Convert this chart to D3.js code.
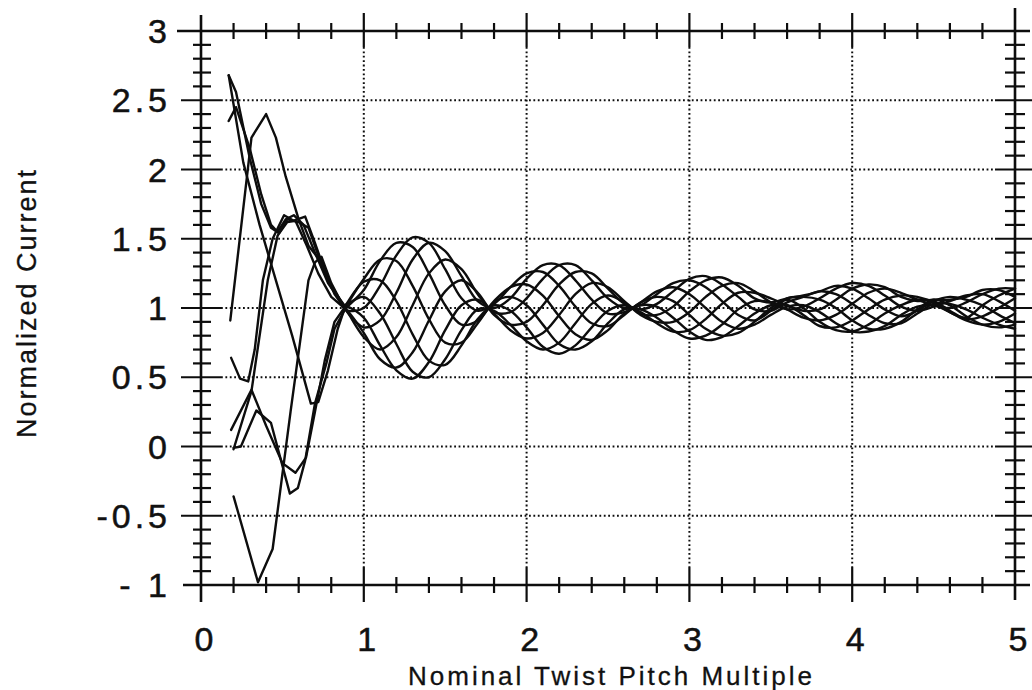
<!DOCTYPE html>
<html>
<head>
<meta charset="utf-8">
<script src="https://cdn.jsdelivr.net/npm/d3@7"></script>
<style>
  html, body { margin: 0; padding: 0; background: #ffffff; }
  svg { display: block; }
  text { font-family: "Liberation Sans", Arial, Helvetica, sans-serif; fill: #111; }
</style>
</head>
<body>
<svg id="chart" width="1032" height="690"></svg>
<script>
// ---- axis ticks and labels ----
const xTickValues = [0, 1, 2, 3, 4, 5];
const xTickLabels = ["0", "1", "2", "3", "4", "5"];
const yTickValues = [-1, -0.5, 0, 0.5, 1, 1.5, 2, 2.5, 3];
const yTickLabels = ["- 1", "-0.5", "0", "0.5", "1", "1.5", "2", "2.5", "3"];
const xGridValues = [1, 2, 3, 4];
const yGridValues = [-0.5, 0, 0.5, 1, 1.5, 2, 2.5];
const xTitle = "Nominal Twist Pitch Multiple";
const yTitle = "Normalized Current";

// ---- strand currents: coarse start-up segment (x, value) up to the first node ----
const s1Head = [[0.20,-0.36],[0.35,-0.98],[0.44,-0.74],[0.55,0.25],[0.66,1.20],[0.70,1.33],[0.74,1.37],[0.80,1.18],[0.88,1.00]];
const s2Head = [[0.17,2.35],[0.215,2.45],[0.30,2.15],[0.37,1.82],[0.43,1.60],[0.47,1.55],[0.52,1.64],[0.57,1.67],[0.63,1.60],[0.70,1.40],[0.78,1.18],[0.88,1.01]];
const s3Head = [[0.17,2.68],[0.215,2.56],[0.30,2.08],[0.37,1.75],[0.43,1.58],[0.48,1.54],[0.53,1.62],[0.58,1.63],[0.65,1.45],[0.72,1.25],[0.80,1.08],[0.88,1.00]];
const s4Head = [[0.18,0.91],[0.31,2.23],[0.40,2.40],[0.46,2.23],[0.52,1.95],[0.60,1.64],[0.66,1.45],[0.72,1.36],[0.75,1.30],[0.82,1.10],[0.88,1.00]];
const s5Head = [[0.185,0.64],[0.24,0.49],[0.29,0.47],[0.33,0.70],[0.38,1.20],[0.44,1.50],[0.51,1.67],[0.57,1.63],[0.64,1.66],[0.70,1.47],[0.78,1.20],[0.88,1.01]];
const s6Head = [[0.20,-0.02],[0.31,0.40],[0.41,1.20],[0.47,1.52],[0.53,1.64],[0.60,1.62],[0.66,1.58],[0.72,1.38],[0.80,1.15],[0.88,1.02]];
const s7Head = [[0.185,0.12],[0.31,0.41],[0.40,0.15],[0.50,-0.12],[0.58,-0.19],[0.645,-0.08],[0.70,0.25],[0.76,0.62],[0.82,0.90],[0.88,1.00]];
const s8Head = [[0.17,2.68],[0.26,2.05],[0.36,1.60],[0.46,1.20],[0.56,0.80],[0.675,0.31],[0.72,0.32],[0.78,0.55],[0.84,0.85],[0.88,0.99]];
const s9Head = [[0.20,-0.01],[0.245,0.00],[0.34,0.26],[0.43,0.17],[0.546,-0.34],[0.595,-0.30],[0.64,-0.10],[0.70,0.31],[0.77,0.60],[0.82,0.85],[0.88,0.98]];

// ---- strand currents beyond the first node, sampled every 0.1 pitch ----
const tailX = [0.9,1.0,1.1,1.2,1.3,1.4,1.5,1.6,1.7,1.8,1.9,2.0,2.1,2.2,2.3,2.4,2.5,2.6,2.7,2.8,2.9,3.0,3.1,3.2,3.3,3.4,3.5,3.6,3.7,3.8,3.9,4.0,4.1,4.2,4.3,4.4,4.5,4.6,4.7,4.8,4.9,5.0];
const s1Tail = [0.98,1.00,1.16,1.38,1.51,1.47,1.28,1.07,0.98,1.03,1.15,1.25,1.26,1.16,1.01,0.89,0.87,0.95,1.04,1.08,1.05,0.95,0.85,0.80,0.82,0.90,1.00,1.06,1.00,0.90,0.84,0.83,0.88,0.96,1.02,1.06,1.05,0.98,0.92,0.94,1.00,1.07];
const s2Tail = [0.97,0.86,0.91,1.11,1.35,1.47,1.41,1.23,1.05,1.00,1.07,1.21,1.31,1.31,1.20,1.06,0.96,0.97,1.04,1.12,1.15,1.10,1.00,0.90,0.85,0.88,0.95,1.01,1.02,0.97,0.89,0.83,0.83,0.87,0.95,1.01,1.02,0.97,0.91,0.88,0.90,0.96];
const s3Tail = [0.97,0.79,0.70,0.79,1.02,1.25,1.35,1.28,1.10,0.97,0.97,1.07,1.21,1.31,1.31,1.20,1.07,1.00,1.02,1.10,1.18,1.20,1.15,1.05,0.95,0.91,0.98,1.07,1.08,1.06,1.00,0.91,0.85,0.85,0.90,0.99,1.06,1.02,0.94,0.88,0.86,0.88];
const s4Tail = [0.98,0.82,0.63,0.57,0.68,0.91,1.12,1.20,1.11,0.95,0.88,0.90,1.02,1.17,1.26,1.25,1.14,1.03,0.99,1.03,1.12,1.21,1.23,1.17,1.08,0.99,0.98,1.04,1.08,1.12,1.10,1.03,0.95,0.89,0.89,0.96,1.03,1.03,0.99,0.93,0.88,0.85];
const s5Tail = [1.01,0.93,0.73,0.55,0.49,0.61,0.84,1.02,1.06,0.96,0.84,0.78,0.82,0.95,1.10,1.18,1.15,1.05,0.96,0.95,1.01,1.12,1.20,1.22,1.16,1.07,1.04,1.07,1.09,1.12,1.16,1.14,1.07,0.99,0.94,0.98,1.05,1.08,1.06,1.02,0.95,0.89];
const s6Tail = [1.03,1.08,0.96,0.74,0.54,0.50,0.63,0.84,0.99,0.98,0.88,0.76,0.70,0.75,0.89,1.03,1.09,1.04,0.95,0.90,0.90,0.97,1.08,1.16,1.18,1.12,1.04,0.99,1.01,1.07,1.14,1.18,1.16,1.09,1.01,0.98,1.01,1.05,1.09,1.10,1.05,0.98];
const s7Tail = [1.04,1.19,1.20,1.05,0.81,0.62,0.59,0.73,0.92,1.02,0.98,0.86,0.72,0.67,0.73,0.86,0.98,1.02,0.97,0.89,0.83,0.84,0.92,1.03,1.11,1.11,1.07,1.02,0.98,0.99,1.06,1.14,1.17,1.15,1.08,1.05,1.06,1.06,1.08,1.13,1.13,1.08];
const s8Tail = [1.03,1.21,1.35,1.34,1.16,0.92,0.75,0.75,0.89,1.04,1.08,1.02,0.88,0.74,0.70,0.76,0.89,0.99,0.99,0.93,0.84,0.78,0.80,0.88,0.99,1.05,1.04,0.99,0.93,0.91,0.95,1.03,1.11,1.14,1.11,1.06,1.02,1.00,1.04,1.10,1.14,1.14];
const s9Tail = [1.01,1.13,1.34,1.47,1.44,1.25,1.02,0.88,0.91,1.05,1.15,1.17,1.09,0.94,0.81,0.77,0.84,0.96,1.02,1.01,0.93,0.83,0.77,0.79,0.87,0.96,1.02,1.02,0.95,0.87,0.86,0.91,0.99,1.06,1.09,1.08,1.04,0.97,0.93,1.02,1.09,1.14];

const strands = [
  { head: s1Head, tail: s1Tail },
  { head: s2Head, tail: s2Tail },
  { head: s3Head, tail: s3Tail },
  { head: s4Head, tail: s4Tail },
  { head: s5Head, tail: s5Tail },
  { head: s6Head, tail: s6Tail },
  { head: s7Head, tail: s7Tail },
  { head: s8Head, tail: s8Tail },
  { head: s9Head, tail: s9Tail }
];

// ---- layout ----
const svg = d3.select("#chart");
const x = d3.scaleLinear().domain([0, 5]).range([201, 1015]);
const y = d3.scaleLinear().domain([-1, 3]).range([585, 31]);
const ink = "#0d0d0d";

const x0 = x(0), x5 = x(5), yTop = y(3), yBot = y(-1);

// dotted grid
const grid = svg.append("g")
  .attr("stroke", ink).attr("stroke-width", 2)
  .attr("stroke-dasharray", "1.8 2.6").attr("fill", "none");
grid.selectAll("line.gx").data(xGridValues).join("line")
  .attr("x1", d => x(d)).attr("x2", d => x(d))
  .attr("y1", yTop + 16).attr("y2", yBot - 18);
grid.selectAll("line.gy").data(yGridValues).join("line")
  .attr("x1", x0 + 20).attr("x2", x5 - 20)
  .attr("y1", d => y(d)).attr("y2", d => y(d));

// frame lines
const frame = svg.append("g").attr("stroke", ink).attr("stroke-width", 2.6).attr("fill", "none");
frame.append("line").attr("x1", 177).attr("x2", 1030).attr("y1", yTop).attr("y2", yTop);
frame.append("line").attr("x1", 183).attr("x2", 1030).attr("y1", yBot).attr("y2", yBot);
frame.append("line").attr("x1", x0).attr("x2", x0).attr("y1", 15).attr("y2", 602);
frame.append("line").attr("x1", x5).attr("x2", x5).attr("y1", 8).attr("y2", 600);

// tick marks
const ticks = svg.append("g").attr("stroke", ink).attr("stroke-width", 2.2).attr("fill", "none");
const xMinor = d3.range(0, 26).map(i => i / 5).filter(v => Math.abs(v - Math.round(v)) > 1e-6);
const yMinor = d3.range(-10, 31).map(i => i / 10).filter(v => Math.abs(v * 2 - Math.round(v * 2)) > 1e-6);
const yMajor = d3.range(-2, 7).map(i => i / 2);

ticks.selectAll("line.txm").data(xMinor).join("line")
  .attr("x1", d => x(d)).attr("x2", d => x(d)).attr("y1", yTop - 8).attr("y2", yTop + 8);
ticks.selectAll("line.bxm").data(xMinor).join("line")
  .attr("x1", d => x(d)).attr("x2", d => x(d)).attr("y1", yBot - 8).attr("y2", yBot + 8);
ticks.selectAll("line.txM").data(xGridValues).join("line")
  .attr("x1", d => x(d)).attr("x2", d => x(d)).attr("y1", yTop - 18).attr("y2", yTop + 16);
ticks.selectAll("line.bxM").data(xGridValues).join("line")
  .attr("x1", d => x(d)).attr("x2", d => x(d)).attr("y1", yBot - 18).attr("y2", yBot + 17);
ticks.selectAll("line.lym").data(yMinor).join("line")
  .attr("x1", x0 - 8).attr("x2", x0 + 10).attr("y1", d => y(d)).attr("y2", d => y(d));
ticks.selectAll("line.rym").data(yMinor).join("line")
  .attr("x1", x5 - 10).attr("x2", x5 + 10).attr("y1", d => y(d)).attr("y2", d => y(d));
ticks.selectAll("line.lyM").data(yMajor.filter(v => v > -1 && v < 3)).join("line")
  .attr("x1", x0 - 20).attr("x2", x0 + 20).attr("y1", d => y(d)).attr("y2", d => y(d));
ticks.selectAll("line.ryM").data(yMajor.filter(v => v > -1 && v < 3)).join("line")
  .attr("x1", x5 - 20).attr("x2", x5 + 18).attr("y1", d => y(d)).attr("y2", d => y(d));

// strand curves
const linear = d3.line().x(d => x(d[0])).y(d => y(d[1]));
const smooth = d3.line().x(d => x(d[0])).y(d => y(d[1])).curve(d3.curveCatmullRom.alpha(0.5));
const curves = svg.append("g").attr("fill", "none").attr("stroke", ink)
  .attr("stroke-width", 2.4).attr("stroke-linejoin", "round").attr("stroke-linecap", "round");
strands.forEach(s => {
  curves.append("path").attr("d", linear(s.head));
  const tailPts = [s.head[s.head.length - 1]].concat(tailX.map((xv, i) => [xv, s.tail[i]]));
  curves.append("path").attr("d", smooth(tailPts));
});

// tick labels
svg.append("g").selectAll("text").data(yTickValues).join("text")
  .attr("x", 171).attr("y", d => y(d)).attr("dy", "0.36em")
  .attr("text-anchor", "end").attr("font-size", 34).attr("letter-spacing", 4)
  .attr("stroke", "#111").attr("stroke-width", 0.5)
  .text((d, i) => yTickLabels[i]);
svg.append("g").selectAll("text").data(xTickValues).join("text")
  .attr("x", d => x(d) + 3).attr("y", 651)
  .attr("text-anchor", "middle").attr("font-size", 34)
  .attr("stroke", "#111").attr("stroke-width", 0.5)
  .text((d, i) => xTickLabels[i]);

// axis titles
svg.append("text").attr("x", 610).attr("y", 685).attr("text-anchor", "middle")
  .attr("font-size", 26).attr("textLength", 404).attr("lengthAdjust", "spacing")
  .attr("stroke", "#111").attr("stroke-width", 0.3)
  .text(xTitle);
svg.append("text").attr("transform", "translate(36,304) rotate(-90)")
  .attr("text-anchor", "middle").attr("font-size", 27)
  .attr("textLength", 268).attr("lengthAdjust", "spacing")
  .attr("stroke", "#111").attr("stroke-width", 0.3)
  .text(yTitle);
</script>
</body>
</html>
